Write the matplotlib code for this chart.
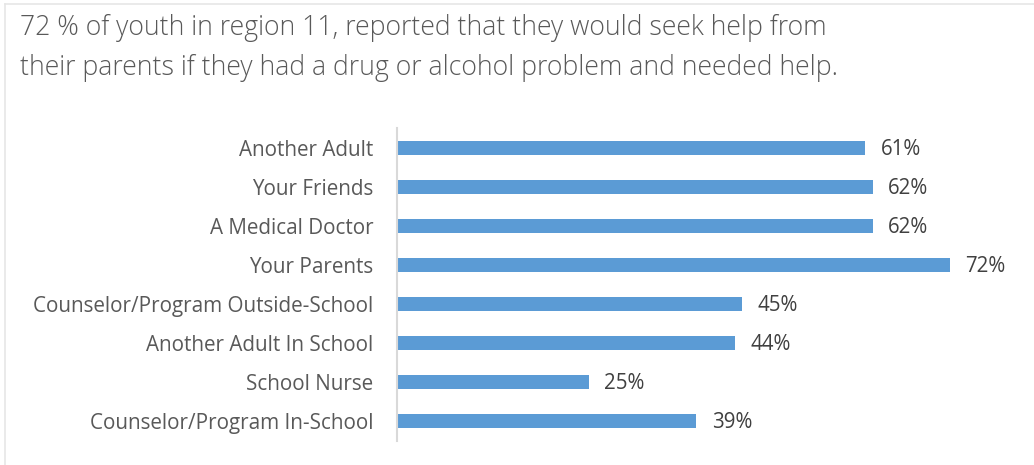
import matplotlib.pyplot as plt
from matplotlib.lines import Line2D

categories = ["Another Adult", "Your Friends", "A Medical Doctor", "Your Parents",
              "Counselor/Program Outside-School", "Another Adult In School",
              "School Nurse", "Counselor/Program In-School"]
values = [61, 62, 62, 72, 45, 44, 25, 39]

title = ("72 % of youth in region 11, reported that they would seek help from\n"
         "their parents if they had a drug or alcohol problem and needed help.")

W, H = 1034, 465
fig = plt.figure(figsize=(W / 100, H / 100), dpi=100)

# axes placed in pixel terms
left, right, top, bottom = 397, 1011, 128.5, 440.5
ax = fig.add_axes([left / W, 1 - bottom / H, (right - left) / W, (bottom - top) / H])

pos = list(range(len(categories)))
ax.barh(pos, values, height=0.37, color="#5b9bd5")
ax.set_ylim(len(categories) - 0.5, -0.5)
ax.set_xlim(0, 80)

for p, v in zip(pos, values):
    ax.text(v + 2.0, p + 0.05, f"{v}%", va="center", ha="left", fontsize=14.8,
            family="Open Sans", color="#404040")

ax.set_yticks(pos)
ax.set_yticklabels(categories, fontsize=14.9, family="Open Sans", color="#595959")
ax.tick_params(axis="y", length=0, pad=17)
ax.set_xticks([])
for s in ["top", "right", "bottom"]:
    ax.spines[s].set_visible(False)
ax.spines["left"].set_color("#d9d9d9")
ax.spines["left"].set_linewidth(1.5)

fig.text(20 / W, 1 - 14 / H, title, ha="left", va="top", fontsize=19.2,
         family="Open Sans", fontweight="light", color="#595959", linespacing=1.55)

# chart frame (top and left edges visible)
fig.add_artist(Line2D([5 / W, 1], [1 - 4 / H, 1 - 4 / H], color="#e6e6e6", lw=1.2,
                      transform=fig.transFigure))
fig.add_artist(Line2D([5 / W, 5 / W], [0, 1 - 4 / H], color="#e6e6e6", lw=1.2,
                      transform=fig.transFigure))

fig.savefig("out.png", dpi=100)
